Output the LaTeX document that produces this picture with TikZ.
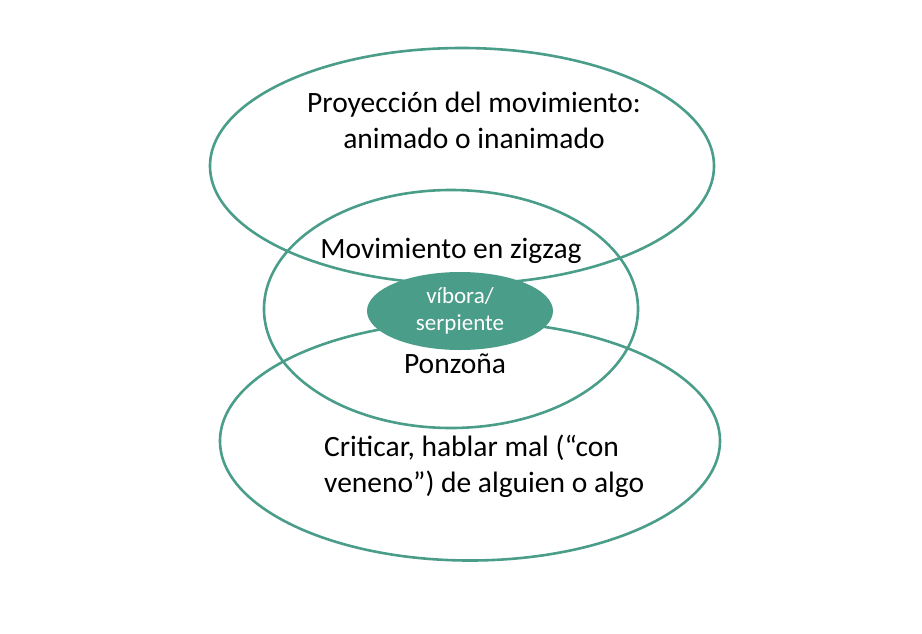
\documentclass[tikz,border=0pt]{standalone}
\usepackage{fontspec}
\setmainfont{Carlito}
\usetikzlibrary{shapes.geometric}
\definecolor{vgreen}{HTML}{4A9D89}
\begin{document}
\begin{tikzpicture}[x=1pt,y=-1pt,
  ring/.style={draw=vgreen, line width=2.6pt, ellipse, inner sep=0pt},
  core/.style={fill=vgreen, ellipse, inner sep=0pt, text=white, align=center,
    font=\fontsize{23}{27}\selectfont},
  lbl/.style={font=\fontsize{29.5}{36}\selectfont, inner sep=0pt}]
\useasboundingbox (0,0) rectangle (922,633);
% the three fields
\node[ring, minimum width=504pt, minimum height=236pt] (proy) at (462,166) {};
\node[ring, minimum width=374pt, minimum height=238pt] (mov) at (451,309) {};
\node[ring, minimum width=500pt, minimum height=239pt] (crit) at (470,441) {};
% centre
\node[core, minimum width=186pt, minimum height=78pt] (vibora) at (460,311) {víbora/\\serpiente};

\node[lbl, align=center] (proytxt) at (474,120) {Proyección del movimiento:\\animado o inanimado};
\node[lbl, anchor=base] (movtxt) at (451,258) {Movimiento en zigzag};
\node[lbl, anchor=base] (ponz) at (455,373) {Ponzoña};
\node[lbl, align=left, anchor=west] (crittxt) at (324,466) {Criticar, hablar mal (“con\\veneno”) de alguien o algo};
\end{tikzpicture}
\end{document}
